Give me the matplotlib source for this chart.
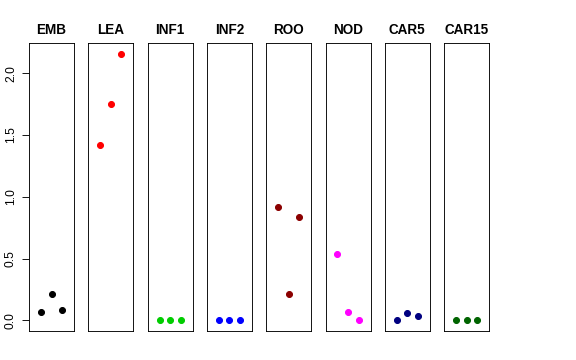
import matplotlib
matplotlib.use("Agg")
import matplotlib.pyplot as plt

# tissue panels and the three replicate values in each
tissues = ["EMB", "LEA", "INF1", "INF2", "ROO", "NOD", "CAR5", "CAR15"]
values = [
    [0.065, 0.213, 0.086],   # EMB
    [1.416, 1.748, 2.157],   # LEA
    [0.0, 0.0, 0.0],         # INF1
    [0.0, 0.0, 0.0],         # INF2
    [0.917, 0.210, 0.836],   # ROO
    [0.536, 0.065, 0.0],     # NOD
    [0.0, 0.059, 0.032],     # CAR5
    [0.0, 0.0, 0.0],         # CAR15
]
colors = ["black", "red", "#00CD00", "blue", "#8B0000", "magenta", "#000080", "#006400"]
reps = [1, 2, 3]
yticks = [0.0, 0.5, 1.0, 1.5, 2.0]

plt.rcParams["font.family"] = ["Liberation Sans", "DejaVu Sans"]

W, H = 576, 360
fig = plt.figure(figsize=(W / 72, H / 72), dpi=72)

ymax = max(max(v) for v in values)
pad = ymax * 0.04
left0, step, pw = 29, 59.3, 45
top, bottom = 43, 331

for i, (name, vals, col) in enumerate(zip(tissues, values, colors)):
    ax = fig.add_axes([(left0 + i * step) / W, (H - bottom) / H, pw / W, (bottom - top) / H])
    ax.plot(reps, vals, "o", color=col, ms=6, mec=col)
    ax.set_xlim(-0.14, 4.14)
    ax.set_ylim(-pad, ymax + pad)
    ax.set_xticks([])
    ax.set_title(name, fontsize=13.5, fontweight="bold", pad=9)
    for s in ax.spines.values():
        s.set_linewidth(0.9)
    if i == 0:
        ax.set_yticks(yticks)
        ax.set_yticklabels([f"{t:.1f}" for t in yticks], rotation=90, va="center", fontsize=12)
        ax.tick_params(axis="y", length=7, width=0.9, pad=5)
    else:
        ax.set_yticks([])

fig.savefig("out.png", dpi=72)
